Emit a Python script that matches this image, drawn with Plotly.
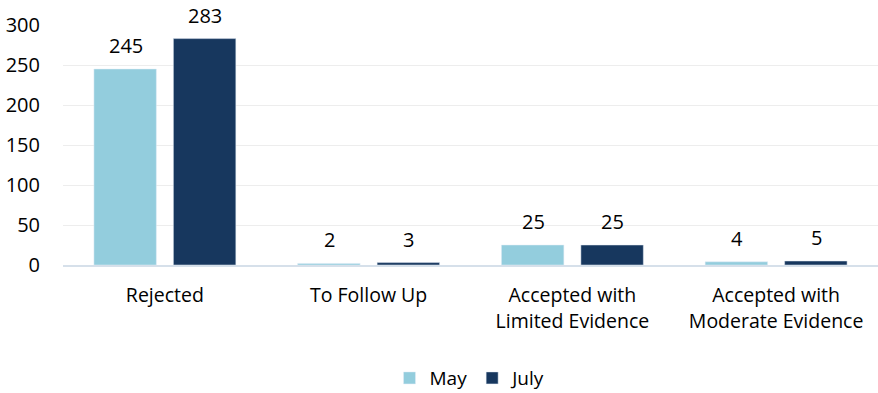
import plotly.graph_objects as go

categories = ["Rejected", "To Follow Up", "Accepted with<br>Limited Evidence", "Accepted with<br>Moderate Evidence"]
may_values = [245, 2, 25, 4]
july_values = [283, 3, 25, 5]
y_ticks = [0, 50, 100, 150, 200, 250, 300]

FONT = "Open Sans"
fig = go.Figure()
fig.add_trace(go.Bar(name="May", x=categories, y=may_values, marker_color="#93cddd"))
fig.add_trace(go.Bar(name="July", x=categories, y=july_values, marker_color="#17375e"))

# value labels above each bar
for vals, shift in ((may_values, -39), (july_values, 40)):
    for c, v in zip(categories, vals):
        fig.add_annotation(x=c, y=v, text=str(v), showarrow=False, xshift=shift,
                           yanchor="bottom", yshift=9, borderpad=0,
                           font=dict(family=FONT, size=20, color="#000000"))

fig.update_layout(
    width=878, height=393,
    margin=dict(l=63, r=0, t=25, b=128, autoexpand=False),
    barmode="group", bargap=0.22, bargroupgap=0.214,
    plot_bgcolor="white", paper_bgcolor="white",
    font=dict(family=FONT, size=19, color="#000000"),
    showlegend=True,
    legend=dict(orientation="h", x=0.5, xanchor="center", yref="container", y=0.038,
                yanchor="middle", font=dict(size=19), traceorder="normal"),
)
fig.update_yaxes(range=[0, 300], tickvals=y_ticks, showgrid=True, gridcolor="#ededed",
                 gridwidth=1, zeroline=False, ticks="", tickfont=dict(size=20),
                 showline=False, ticklabelstandoff=22, automargin=False)
fig.update_xaxes(showline=True, linecolor="#d6e0ea", linewidth=2, ticks="",
                 tickfont=dict(size=19.5), ticklabelstandoff=12, automargin=False)
fig.write_html("out.html")
